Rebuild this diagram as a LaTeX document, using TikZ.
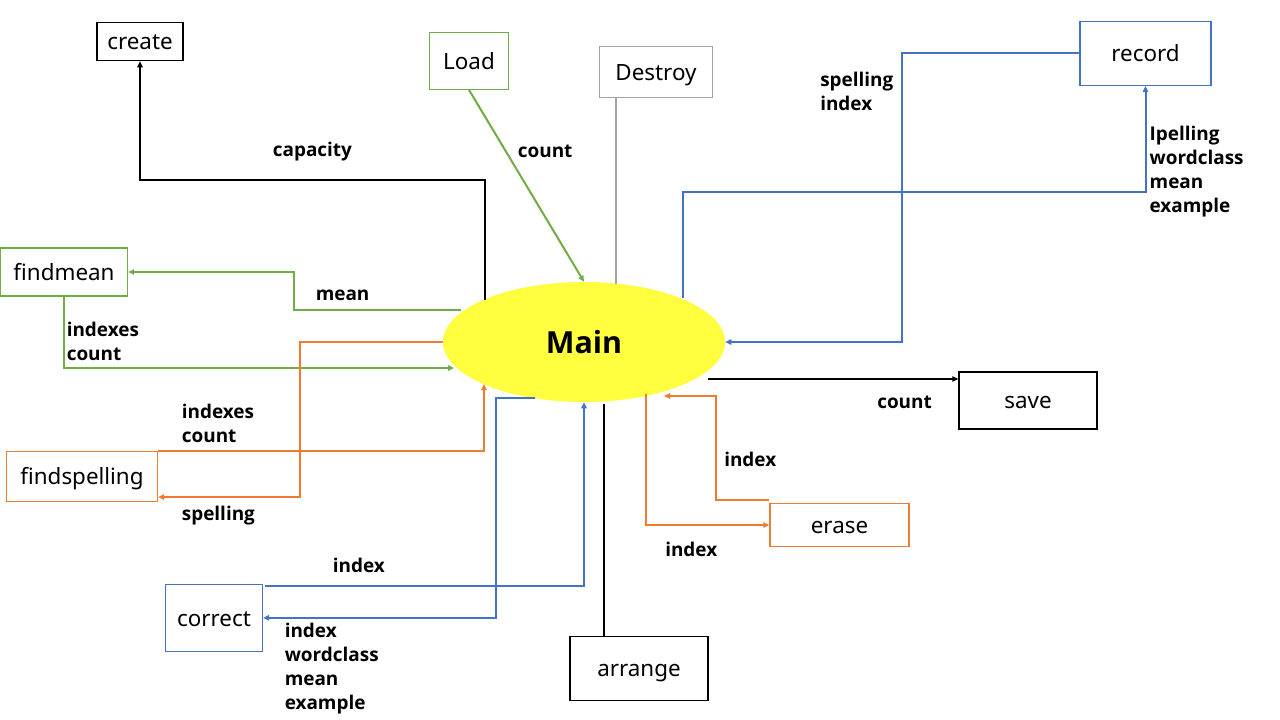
\documentclass[tikz,border=0pt]{standalone}
\usepackage{fontspec}
\setmainfont{Noto Sans}
\newfontfamily\lblfont{Open Sans}
\usetikzlibrary{arrows.meta,calc,shapes.geometric}
\definecolor{cgreen}{HTML}{70AD47}
\definecolor{corange}{HTML}{ED7D31}
\definecolor{cblue}{HTML}{4472C4}
\definecolor{cgray}{HTML}{A5A5A5}
\definecolor{cyellow}{HTML}{FFFF40}
\begin{document}
\begin{tikzpicture}[x=0.75pt,y=-0.75pt,
  bx/.style 2 args={draw, line width=0.9pt, minimum width=#1*0.75pt, minimum height=#2*0.75pt, inner sep=0pt, font=\fontsize{16.8}{20}\selectfont, fill=white, text height=12.4pt, text depth=0pt},
  lbl/.style={font=\lblfont\bfseries\fontsize{14.2}{18}\selectfont, inner sep=0pt, anchor=west, align=left},
  conn/.style={line width=1.5pt},
  arr/.style={conn, -{Triangle[length=4.5pt,width=4pt]}}
]
\useasboundingbox (0,0) rectangle (1280,720);
\fill[white] (0,0) rectangle (1280,720);

% nodes
\node[bx={86}{38}] (create) at (140,41.7) {create};
\node[bx={79}{57}, draw=cgreen] (load) at (469,60.8) {Load};
\node[bx={113}{51}, draw=cgray] (destroy) at (656,72) {Destroy};
\node[bx={131}{64}, draw=cblue] (record) at (1145.5,53.3) {record};
\node[bx={127}{48}, draw=cgreen] (findmean) at (64,272) {findmean};
\node[ellipse, fill=cyellow, minimum width=282*0.75pt, minimum height=120*0.75pt, inner sep=0pt, font=\lblfont\bfseries\fontsize{22.8}{26}\selectfont] (main) at (584,342) {Main};
\node[bx={138}{57}] (save) at (1028,400.5) {save};
\node[bx={151}{50}, draw=corange] (findspelling) at (82,476.5) {findspelling};
\node[bx={139}{43}, draw=corange] (erase) at (839.5,525) {erase};
\node[bx={97}{67}, draw=cblue] (correct) at (214,617.8) {correct};
\node[bx={138}{64}] (arrange) at (639,668.3) {arrange};

% connectors
\draw[arr] ($(main)+(-99.5,-42)$) -- ++(0,-120) -| (create.south);
\draw[arr, cgreen] (load.south) -- (main.north);
\draw[conn, cgray] ($(destroy.south)+(-40.5,0)$) -- ($(main)+(31.5,-58)$);
\draw[arr, cgreen] ($(main)+(-123,-32)$) -- ++(-167,0) |- (findmean.east);
\draw[arr, cgreen] (findmean.south) |- ($(main)+(-130,26)$);
\draw[arr, corange] (main.west) -- ++(-143,0) |- ($(findspelling.south east)+(0,-5)$);
\draw[arr, corange] (findspelling.north east) -| ($(main)+(-100,42)$);
\draw[arr, cblue] ($(main)+(-49,56)$) -- ++(-39,0) |- (correct.east);
\draw[arr, cblue] ($(correct.north east)+(2,2)$) -| (main.south);
\draw[conn] ($(arrange.north)+(-35,0)$) -- ($(main)+(20,62)$);
\draw[arr, corange] ($(main)+(62,52)$) |- (erase.west);
\draw[arr, corange] ($(erase.north west)+(0,-3)$) -- ++(-53,0) |- ($(main)+(80,54)$);
\draw[arr] ($(main)+(124,37)$) coordinate (s13) -- (s13 -| save.west);
\draw[arr, cblue] (record.west) -- ++(-177,0) |- (main.east);
\draw[arr, cblue] ($(main)+(99,-44)$) -- ++(0,-106) -| (record.south);

% labels
\node[lbl] (t1) at (272.6,151.5) {capacity};
\node[lbl] (t2) at (517.6,151) {count};
\node[lbl] (t3) at (315.5,295.5) {mean};
\node[lbl] (t4) at (66.5,341) {indexes\\count};
\node[lbl] (t5) at (181.6,423) {indexes\\count};
\node[lbl] (t6) at (181.6,516) {spelling};
\node[lbl] (t7) at (332.6,565) {index};
\node[lbl] (t8) at (284.5,669) {index\\wordclass\\mean\\example};
\node[lbl] (t9) at (820,91) {spelling\\index};
\node[lbl] (t10) at (1149.4,171.5) {Ipelling\\wordclass\\mean\\example};
\node[lbl] (t11) at (877,402.5) {count};
\node[lbl] (t12) at (724,459) {index};
\node[lbl] (t13) at (665,549) {index};
\end{tikzpicture}
\end{document}
